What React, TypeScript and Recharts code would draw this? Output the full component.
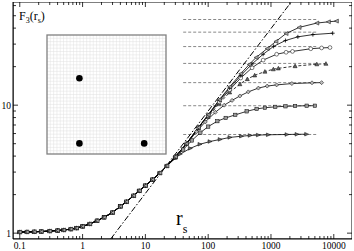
import React from "react";
import { LineChart, Line, XAxis, YAxis, ReferenceArea } from "recharts";

// axis ticks
const xMajor = [0.1, 1, 10, 100, 1000, 10000];
const xMinor = [0.1, 1, 10, 100, 1000].flatMap((d) => [2, 3, 4, 5, 6, 7, 8, 9].map((m) => m * d));
const yMajor = [1, 10];
const yMinor = [2, 3, 4, 5, 6, 7, 8, 9, 20, 30, 40, 50, 60];

// shared low-r part of all curves
const baseX = [0.1, 0.13, 0.17, 0.22, 0.3, 0.4, 0.5, 0.65, 0.8, 1, 1.3, 1.7, 2.2, 3, 4, 5, 6.5, 8, 10, 13, 17, 22];
const baseY = [1.02, 1.022, 1.025, 1.03, 1.038, 1.048, 1.058, 1.075, 1.095, 1.13, 1.18, 1.25, 1.33, 1.45, 1.62, 1.76, 1.96, 2.14, 2.35, 2.62, 2.95, 3.35];

// saturating tails
const l6X = [30, 36, 52, 74, 107, 155, 222, 340, 465, 630, 910, 1800, 2600, 3700];
const l6Y = [3.85, 4.15, 4.6, 4.95, 5.2, 5.4, 5.6, 5.72, 5.8, 5.84, 5.87, 5.9, 5.92, 5.93];
const l10X = [30, 40, 55, 75, 100, 140, 190, 270, 410, 590, 800, 1170, 1700, 2420, 3700, 5000];
const l10Y = [3.9, 4.5, 5.3, 6.1, 6.8, 7.5, 7.95, 8.4, 8.95, 9.35, 9.55, 9.7, 9.8, 9.85, 9.9, 9.9];
const l15X = [30, 45, 65, 90, 130, 180, 240, 320, 435, 630, 870, 1230, 2150, 4500, 6400];
const l15Y = [3.95, 4.95, 6.2, 7.4, 8.8, 10.0, 10.9, 11.8, 12.7, 13.6, 14.1, 14.4, 14.75, 14.95, 15.0];
const l21X = [30, 45, 70, 100, 150, 220, 320, 420, 550, 800, 1090, 1310, 2420, 5370, 7500];
const l21Y = [3.95, 5.0, 6.6, 8.1, 10.3, 12.6, 14.6, 16.0, 17.1, 18.3, 19.1, 19.4, 20.2, 20.9, 21.1];
const l28X = [30, 45, 70, 100, 150, 220, 330, 500, 750, 1230, 1740, 2200, 4300, 6400, 8700];
const l28Y = [3.95, 5.0, 6.7, 8.3, 10.6, 13.2, 16.3, 19.6, 22.5, 25.0, 25.9, 26.3, 27.6, 28.0, 28.2];
const l36X = [30, 45, 70, 100, 150, 220, 330, 500, 750, 1100, 1700, 2680, 4650, 9600];
const l36Y = [3.95, 5.0, 6.7, 8.4, 10.9, 13.6, 17.0, 21.0, 25.0, 28.8, 32.0, 34.2, 35.6, 36.5];
const l45X = [30, 45, 70, 100, 150, 220, 330, 450, 580, 870, 1200, 1740, 2800, 5370, 8200, 11000];
const l45Y = [3.95, 5.0, 6.7, 8.4, 11.0, 13.9, 17.6, 20.8, 23.6, 27.7, 31.5, 36.3, 40.5, 43.8, 44.8, 45.4];

// saturation levels (dashed) and their r-range
const levels = [5.9, 9.9, 15.0, 21.2, 28.7, 37.2, 46.7];
const levelRange = [40, 5600];

// dash-dot guide
const guideX = [2.8, 2100];
const guideY = [0.9, 64];

// inset: 36x36 lattice, three occupied sites
const insetCells = 36;
const insetDots = [
  [9.8, 13.1],
  [9.8, 32.8],
  [29.4, 32.8],
];

const pts = (xs: number[], ys: number[]) => xs.map((x, i) => ({ x, y: ys[i] }));
const curve = (xs: number[], ys: number[]) => [...pts(baseX, baseY), ...pts(xs, ys)];

const PLOT_TOP = 2;
const PLOT_RIGHT = 352;
const FONT = "'Liberation Serif', 'DejaVu Serif', serif";

const Marker = ({ cx, cy, shape }: any) => {
  if (cx == null || cy == null) return null;
  const s = 2;
  const st = { stroke: "#000", strokeWidth: 0.5 };
  switch (shape) {
    case "triLeft":
      return <polygon points={`${cx - s},${cy} ${cx + s},${cy - s} ${cx + s},${cy + s}`} fill="#aaa" {...st} />;
    case "plus":
      return <path d={`M${cx - s},${cy}H${cx + s}M${cx},${cy - s}V${cy + s}`} fill="none" {...st} strokeWidth={0.8} />;
    case "circle":
      return <circle cx={cx} cy={cy} r={1.9} fill="#fff" {...st} />;
    case "triUp":
      return <polygon points={`${cx},${cy - s} ${cx - s},${cy + s * 0.8} ${cx + s},${cy + s * 0.8}`} fill="#666" {...st} />;
    case "diamond":
      return <polygon points={`${cx},${cy - s} ${cx + s},${cy} ${cx},${cy + s} ${cx - s},${cy}`} fill="#bbb" {...st} />;
    case "square":
      return <rect x={cx - 1.7} y={cy - 1.7} width={3.4} height={3.4} fill="#999" {...st} />;
    default:
      return <polygon points={`${cx + s},${cy} ${cx - s},${cy - s * 0.9} ${cx - s},${cy + s * 0.9}`} fill="#666" {...st} />;
  }
};

const dotFor = (shape: string) => (p: any) => <Marker key={`${shape}-${p.index}`} cx={p.cx} cy={p.cy} shape={shape} />;

const XTick = ({ x, y, payload }: any) => {
  const major = xMajor.includes(payload.value);
  const len = major ? 5 : 3;
  return (
    <g>
      <line x1={x} x2={x} y1={y} y2={y - len} stroke="#000" strokeWidth={0.8} />
      <line x1={x} x2={x} y1={PLOT_TOP} y2={PLOT_TOP + len} stroke="#000" strokeWidth={0.8} />
      {major && (
        <text x={x} y={y + 10} textAnchor="middle" fontSize={9.5} fontFamily={FONT} fill="#000">
          {payload.value}
        </text>
      )}
    </g>
  );
};

const YTick = ({ x, y, payload }: any) => {
  const major = yMajor.includes(payload.value);
  const len = major ? 5 : 3;
  return (
    <g>
      <line x1={x} x2={x + len} y1={y} y2={y} stroke="#000" strokeWidth={0.8} />
      <line x1={PLOT_RIGHT} x2={PLOT_RIGHT - len} y1={y} y2={y} stroke="#000" strokeWidth={0.8} />
      {major && (
        <text x={x - 2} y={y + 3.5} textAnchor="end" fontSize={9.5} fontFamily={FONT} fill="#000">
          {payload.value}
        </text>
      )}
    </g>
  );
};

const Inset = () => {
  const x0 = 47;
  const y0 = 35;
  const size = 119;
  const c = size / insetCells;
  const lines = [];
  for (let i = 1; i < insetCells; i++) {
    lines.push(<line key={`v${i}`} x1={x0 + i * c} x2={x0 + i * c} y1={y0} y2={y0 + size} />);
    lines.push(<line key={`h${i}`} y1={y0 + i * c} y2={y0 + i * c} x1={x0} x2={x0 + size} />);
  }
  return (
    <g>
      <rect x={x0} y={y0} width={size} height={size} fill="#fff" />
      <g stroke="#e0e0e0" strokeWidth={0.5}>{lines}</g>
      <rect x={x0} y={y0} width={size} height={size} fill="none" stroke="#808080" strokeWidth={1.3} />
      {insetDots.map(([gx, gy], i) => (
        <circle key={i} cx={x0 + gx * c} cy={y0 + gy * c} r={3.3} fill="#000" />
      ))}
    </g>
  );
};

const series = [
  { name: "l6", xs: l6X, ys: l6Y, shape: "triRight", dash: undefined },
  { name: "l10", xs: l10X, ys: l10Y, shape: "square", dash: undefined },
  { name: "l15", xs: l15X, ys: l15Y, shape: "diamond", dash: undefined },
  { name: "l21", xs: l21X, ys: l21Y, shape: "triUp", dash: "3 2" },
  { name: "l28", xs: l28X, ys: l28Y, shape: "circle", dash: undefined },
  { name: "l36", xs: l36X, ys: l36Y, shape: "plus", dash: undefined },
  { name: "l45", xs: l45X, ys: l45Y, shape: "triLeft", dash: undefined },
];

export default function App() {
  return (
    <div style={{ position: "absolute", left: 0, top: 0, width: 354, height: 251, background: "#fff" }}>
      <LineChart width={354} height={251} margin={{ top: PLOT_TOP, right: 2, bottom: 0, left: 0 }}>
        <XAxis
          dataKey="x"
          type="number"
          scale="log"
          domain={[0.078, 19500]}
          allowDataOverflow
          ticks={[...xMajor, ...xMinor]}
          interval={0}
          tick={<XTick />}
          tickLine={false}
          tickSize={0}
          tickMargin={0}
          height={12}
          axisLine={{ stroke: "#000" }}
        />
        <YAxis
          type="number"
          scale="log"
          domain={[0.9, 64]}
          allowDataOverflow
          ticks={[...yMajor, ...yMinor]}
          interval={0}
          tick={<YTick />}
          tickLine={false}
          tickSize={0}
          tickMargin={0}
          width={13}
          axisLine={{ stroke: "#000" }}
        />
        <ReferenceArea x1={0.078} x2={19500} y1={0.9} y2={64} fill="none" stroke="#000" strokeWidth={1} ifOverflow="hidden" />
        {levels.map((lv) => (
          <Line
            key={`lv${lv}`}
            data={pts(levelRange, [lv, lv])}
            dataKey="y"
            stroke="#555"
            strokeWidth={0.7}
            strokeDasharray="3 2"
            dot={false}
            isAnimationActive={false}
          />
        ))}
        <Line
          data={pts(guideX, guideY)}
          dataKey="y"
          stroke="#000"
          strokeWidth={1}
          strokeDasharray="6 2 1.5 2"
          dot={false}
          isAnimationActive={false}
        />
        {series.map((s) => (
          <Line
            key={s.name}
            data={curve(s.xs, s.ys)}
            dataKey="y"
            type="linear"
            stroke="#000"
            strokeWidth={0.8}
            strokeDasharray={s.dash}
            dot={dotFor(s.shape)}
            isAnimationActive={false}
          />
        ))}
      </LineChart>
      <svg width={354} height={251} style={{ position: "absolute", left: 0, top: 0, pointerEvents: "none" }}>
        <Inset />
        <text x={19} y={20} fontFamily={FONT} fontSize={12} fill="#000">
          F<tspan fontSize={8} dy={3}>3</tspan>
          <tspan dy={-3}>(r</tspan>
          <tspan fontSize={8} dy={3}>s</tspan>
          <tspan dy={-3}>)</tspan>
        </text>
        <text x={176} y={225} fontFamily={FONT} fontSize={20} fill="#000">
          r<tspan fontSize={12} dy={8}>s</tspan>
        </text>
      </svg>
    </div>
  );
}
